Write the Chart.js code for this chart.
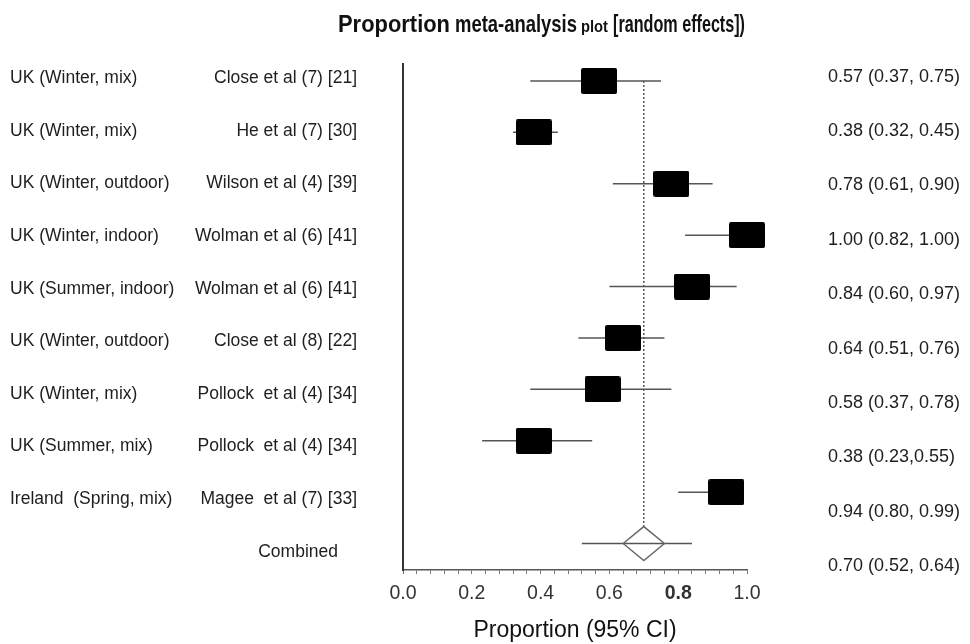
<!DOCTYPE html>
<html>
<head>
<meta charset="utf-8">
<title>Proportion meta-analysis plot</title>
<script src="https://cdn.jsdelivr.net/npm/chart.js@4.4.1/dist/chart.umd.min.js"></script>
<style>
html,body{margin:0;padding:0;background:#fff;}
#wrap{width:970px;height:644px;}
</style>
</head>
<body>
<div id="wrap"><canvas id="myChart" width="970" height="644"></canvas></div>
<script>
// studies, top to bottom
var settings=['UK (Winter, mix)','UK (Winter, mix)','UK (Winter, outdoor)','UK (Winter, indoor)','UK (Summer, indoor)','UK (Winter, outdoor)','UK (Winter, mix)','UK (Summer, mix)','Ireland  (Spring, mix)'];
var studies=['Close et al (7) [21]','He et al (7) [30]','Wilson et al (4) [39]','Wolman et al (6) [41]','Wolman et al (6) [41]','Close et al (8) [22]','Pollock  et al (4) [34]','Pollock  et al (4) [34]','Magee  et al (7) [33]'];
var proportion=[0.57,0.38,0.78,1.00,0.84,0.64,0.58,0.38,0.94];
var ciLow=[0.37,0.32,0.61,0.82,0.60,0.51,0.37,0.23,0.80];
var ciHigh=[0.75,0.45,0.90,1.00,0.97,0.76,0.78,0.55,0.99];
var ciText=['0.57 (0.37, 0.75)','0.38 (0.32, 0.45)','0.78 (0.61, 0.90)','1.00 (0.82, 1.00)','0.84 (0.60, 0.97)','0.64 (0.51, 0.76)','0.58 (0.37, 0.78)','0.38 (0.23,0.55)','0.94 (0.80, 0.99)'];

// pooled estimate (random effects)
var pooled=0.70;
var pooledBox=[0.64,0.76];
var pooledLine=[0.52,0.84];
var pooledText='0.70 (0.52, 0.64)';

// x axis
var xTicks=[0.0,0.2,0.4,0.6,0.8,1.0];

var FONT='"Liberation Sans", Arial, sans-serif';

function makeBox(w,h){
  var c=document.createElement('canvas');
  c.width=w;c.height=h;
  var g=c.getContext('2d');
  var r=2;
  g.fillStyle='#000';
  g.beginPath();
  g.moveTo(r,0);
  g.arcTo(w,0,w,h,r);
  g.arcTo(w,h,0,h,r);
  g.arcTo(0,h,0,0,r);
  g.arcTo(0,0,w,0,r);
  g.closePath();
  g.fill();
  return c;
}
var box=makeBox(36,26);

var datasets=[];
// confidence interval whiskers
for(var i=0;i<proportion.length;i++){
  datasets.push({
    data:[{x:ciLow[i],y:i+1},{x:ciHigh[i],y:i+1}],
    showLine:true,borderColor:'#555',borderWidth:1.5,pointRadius:0,order:2,clip:false
  });
}
// study estimates
var punti=[];
for(var i=0;i<proportion.length;i++){
  punti.push({x:proportion[i],y:i+1});
}
datasets.push({data:punti,pointStyle:box,pointRadius:13,order:0,clip:false});

var rowPooled=proportion.length+1;
var half=0.33;
// dotted line at the pooled value
datasets.push({
  data:[{x:pooled,y:1},{x:pooled,y:rowPooled-half}],
  showLine:true,borderColor:'#555',borderWidth:1.5,borderDash:[2,2],pointRadius:0,order:3
});
// pooled whisker
datasets.push({
  data:[{x:pooledLine[0],y:rowPooled},{x:pooledLine[1],y:rowPooled}],
  showLine:true,borderColor:'#555',borderWidth:1.5,pointRadius:0,order:2
});
// pooled diamond
datasets.push({
  data:[{x:pooledBox[0],y:rowPooled},{x:pooled,y:rowPooled-half},{x:pooledBox[1],y:rowPooled},{x:pooled,y:rowPooled+half},{x:pooledBox[0],y:rowPooled}],
  showLine:true,borderColor:'#6a6a6a',borderWidth:1.5,pointRadius:0,fill:false,order:1
});

// title and the text columns either side of the plot
var testi={
  id:'testi',
  afterDraw:function(chart){
    var ctx=chart.ctx;
    ctx.save();
    ctx.fillStyle='#111';
    ctx.textAlign='left';
    ctx.textBaseline='alphabetic';
    ctx.font='bold 24px '+FONT;
    ctx.fillText('Proportion',338,32,112);
    ctx.fillText('meta-analysis',455,32,122);
    ctx.font='bold 16px '+FONT;
    ctx.fillText('plot',581,32,27);
    ctx.font='bold 24px '+FONT;
    ctx.fillText('[random effects])',613,32,132);

    ctx.fillStyle='#1e1e1e';
    ctx.textBaseline='middle';
    ctx.font='17.5px '+FONT;
    for(var i=0;i<settings.length;i++){
      var y=78.3+i*52.6;
      ctx.textAlign='left';
      ctx.fillText(settings[i],10,y);
      ctx.textAlign='right';
      ctx.fillText(studies[i],357,y);
    }
    ctx.textAlign='right';
    ctx.fillText('Combined',338,78.3+settings.length*52.6);

    ctx.font='18px '+FONT;
    ctx.textAlign='left';
    for(var i=0;i<ciText.length;i++){
      ctx.fillText(ciText[i],828,76.7+i*54.4);
    }
    ctx.fillText(pooledText,828,76.7+ciText.length*54.4);
    ctx.restore();
  }
};

var ctx=document.getElementById('myChart').getContext('2d');
var chart=new Chart(ctx,{
  type:'scatter',
  data:{datasets:datasets},
  options:{
    responsive:false,
    animation:false,
    devicePixelRatio:1,
    layout:{padding:{left:403,right:223,top:64,bottom:0}},
    plugins:{legend:{display:false},tooltip:{enabled:false}},
    scales:{
      x:{
        type:'linear',min:0,max:1,
        ticks:{
          stepSize:0.04,autoSkip:false,maxRotation:0,padding:8,color:'#333',
          font:function(c){
            var bold=c.tick&&Math.abs(c.tick.value-xTicks[4])<1e-6;
            return {family:FONT,size:19.5,weight:bold?'bold':'normal'};
          },
          callback:function(v){
            for(var k=0;k<xTicks.length;k++){
              if(Math.abs(v-xTicks[k])<1e-6) return xTicks[k].toFixed(1);
            }
            return '';
          }
        },
        grid:{display:true,drawOnChartArea:false,drawTicks:true,tickLength:4,color:'#777',lineWidth:1},
        border:{display:true,color:'#555',width:1.5},
        title:{display:true,text:'Proportion (95% CI)',color:'#111',font:{family:FONT,size:23},padding:{top:0,bottom:0}},
        afterFit:function(s){s.height=74;}
      },
      y:{
        type:'linear',min:0.67,max:10.515,reverse:true,
        ticks:{display:false},
        grid:{display:false},
        border:{display:true,color:'#333',width:2},
        afterFit:function(s){s.width=0;}
      }
    }
  },
  plugins:[testi]
});
</script>
</body>
</html>
